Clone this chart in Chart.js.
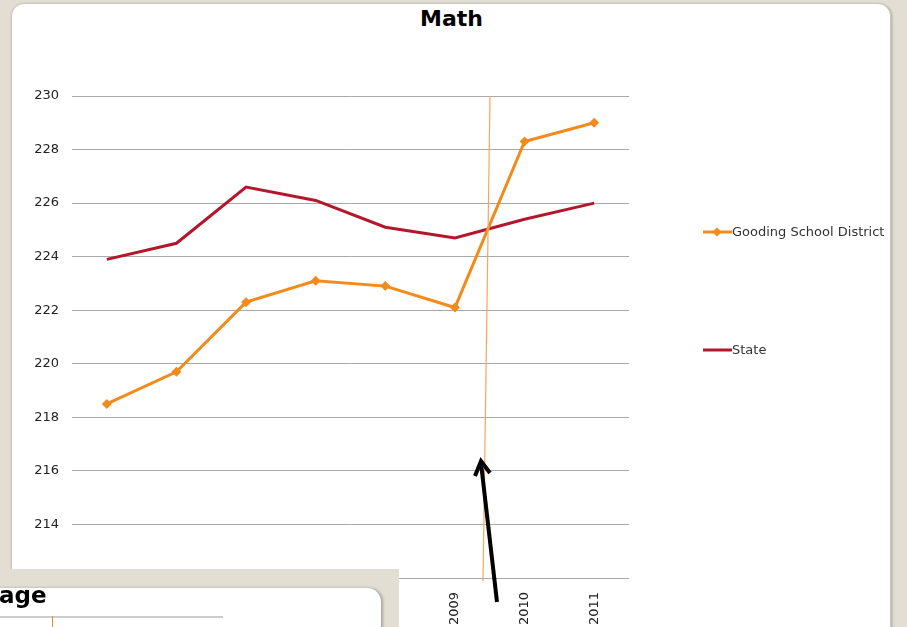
<!DOCTYPE html>
<html>
<head>
<meta charset="utf-8">
<script src="https://cdn.jsdelivr.net/npm/chart.js@4.4.1/dist/chart.umd.min.js"></script>
<style>
  html, body { margin: 0; padding: 0; }
  body { width: 907px; height: 627px; background: #e3ded3; position: relative; overflow: hidden; font-family: "DejaVu Sans", Verdana, sans-serif; }
  #card { position: absolute; left: 11px; top: 3px; width: 878px; height: 640px; background: #fff; border: 1px solid #cbc6ba; border-radius: 13px; box-shadow: 1px 1px 3px rgba(0,0,0,0.25); }
  #title { position: absolute; left: 0; width: 903px; top: 6px; text-align: center; font-weight: bold; font-size: 22px; color: #000; }
  #chart { position: absolute; left: 0; top: 0; }
  .legend-item { position: absolute; left: 703px; height: 16px; line-height: 16px; font-size: 13px; color: #333; white-space: nowrap; }
  .legend-item svg { vertical-align: middle; margin-top: -2px; }
  #panel { position: absolute; left: 0; top: 569px; width: 399px; height: 60px; background: #e3ded3; }
  #panel-card { position: absolute; left: -20px; top: 19px; width: 401px; height: 60px; background: #fff; border-top-right-radius: 14px; box-shadow: 2px 0 3px rgba(0,0,0,0.25); }
  #panel-title { position: absolute; left: 19px; top: -6px; font-weight: bold; font-size: 23px; color: #000; }
  #panel-line { position: absolute; left: 20px; top: 28px; width: 223px; height: 2px; background: #cccccc; }
  #panel-tick { position: absolute; left: 72px; top: 28px; width: 1px; height: 20px; background: #f28a1c; }
  #marks { position: absolute; left: 0; top: 0; }
</style>
</head>
<body>
<div id="card"></div>
<div id="title">Math</div>
<canvas id="chart" width="907" height="627"></canvas>
<div class="legend-item" style="top:224px">
  <svg width="29" height="12"><line x1="0" y1="6" x2="29" y2="6" stroke="#f28a1c" stroke-width="3"/><polygon points="14,1.5 18.5,6 14,10.5 9.5,6" fill="#f28a1c"/></svg>Gooding School District
</div>
<div class="legend-item" style="top:342px">
  <svg width="29" height="12"><line x1="0" y1="6" x2="29" y2="6" stroke="#b3172c" stroke-width="3"/></svg>State
</div>
<svg id="marks" width="907" height="627">
  <line x1="490" y1="96" x2="483" y2="581" stroke="#f5a663" stroke-width="1.2"/>
  <line x1="497" y1="602" x2="481" y2="463" stroke="#000" stroke-width="4"/>
  <polyline points="475,476 481,461 490,473" fill="none" stroke="#000" stroke-width="4"/>
</svg>
<div id="panel">
  <div id="panel-card">
    <div id="panel-title">age</div>
    <div id="panel-line"></div>
    <div id="panel-tick"></div>
  </div>
</div>
<script>
var years = ["2004", "2005", "2006", "2007", "2008", "2009", "2010", "2011"];
var goodingScores = [218.5, 219.7, 222.3, 223.1, 222.9, 222.1, 228.3, 229.0];
var stateScores = [223.9, 224.5, 226.6, 226.1, 225.1, 224.7, 225.4, 226.0];
var yMin = 212;
var yMax = 230;
var yStep = 2;

var data = {
  labels: years,
  datasets: [
    {
      label: "Gooding School District",
      data: goodingScores,
      borderColor: "#f28a1c",
      backgroundColor: "#f28a1c",
      borderWidth: 3,
      pointStyle: "rectRot",
      pointRadius: 5,
      pointBorderWidth: 0,
      tension: 0,
      fill: false,
    },
    {
      label: "State",
      data: stateScores,
      borderColor: "#b3172c",
      backgroundColor: "#b3172c",
      borderWidth: 3,
      pointRadius: 0,
      tension: 0,
      fill: false,
    },
  ],
};

var options = {
  responsive: false,
  animation: false,
  layout: { padding: { left: 0, top: 96, right: 278, bottom: 0 } },
  plugins: { legend: { display: false }, tooltip: { enabled: false } },
  scales: {
    x: {
      type: "category",
      offset: true,
      grid: { display: false },
      border: { display: false },
      ticks: { color: "#222", font: { family: "DejaVu Sans", size: 13 }, minRotation: 90, maxRotation: 90, padding: 6 },
      afterFit: function (scale) { scale.height = 49; },
    },
    y: {
      min: yMin,
      max: yMax,
      grid: { color: "#a9a9a9", drawTicks: false },
      border: { display: false },
      ticks: { stepSize: yStep, color: "#222", font: { family: "DejaVu Sans", size: 13 }, padding: 13 },
      afterFit: function (scale) { scale.width = 72; },
    },
  },
};

const ctx = document.getElementById("chart").getContext("2d");
const mathChart = new Chart(ctx, { type: "line", data: data, options: options });
</script>
</body>
</html>
